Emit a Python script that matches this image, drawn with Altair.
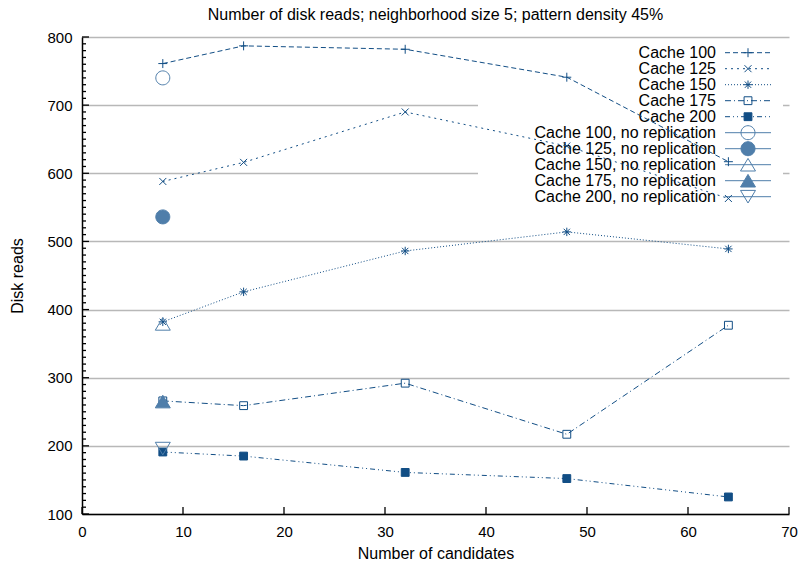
import altair as alt
import pandas as pd

title_text = "Number of disk reads; neighborhood size 5; pattern density 45%"
x_title = "Number of candidates"
y_title = "Disk reads"

series = ["Cache 100", "Cache 125", "Cache 150", "Cache 175", "Cache 200"]
candidates = [8, 16, 32, 48, 64]
cache100 = [761, 787, 782, 741, 617]
cache125 = [588, 616, 690, 640, 563]
cache150 = [382, 426, 486, 514, 489]
cache175 = [266, 259, 292, 217, 377]
cache200 = [191, 185, 161, 152, 125]

norep_labels = [s + ", no replication" for s in series]
norep_candidates = [8, 8, 8, 8, 8]
norep_values = [740, 536, 379, 265, 196]

x_ticks = [0, 10, 20, 30, 40, 50, 60, 70]
y_ticks = [100, 200, 300, 400, 500, 600, 700, 800]
y_minor = [v for v in range(110, 800, 10) if v % 100 != 0]

FONT = "Liberation Sans"
DARK = "#124e85"
LIGHT = "#4f7eaa"

all_labels = series + norep_labels
values = [cache100, cache125, cache150, cache175, cache200]

rows = []
for s, vals in zip(series, values):
    for c, v in zip(candidates, vals):
        rows.append({"label": s, "x": c, "value": v})
lines_df = pd.DataFrame(rows)
norep_df = pd.DataFrame({"label": norep_labels, "x": norep_candidates, "value": norep_values})
points_df = pd.concat([lines_df, norep_df], ignore_index=True)
legend_df = pd.DataFrame({"label": all_labels, "row": list(range(len(all_labels)))})

# marker shapes drawn in a 14px box (size 196)
PLUS = "M-0.64,0L0.64,0M0,-0.64L0,0.64"
CROSS = "M-0.5,-0.5L0.5,0.5M-0.5,0.5L0.5,-0.5"
STAR = "M-0.6,0L0.6,0M0,-0.6L0,0.6M-0.45,-0.45L0.45,0.45M-0.45,0.45L0.45,-0.45"
SQUARE = "M-0.56,-0.56L0.56,-0.56L0.56,0.56L-0.56,0.56Z"
CIRCLE = "M-1,0A1,1,0,1,1,1,0A1,1,0,1,1,-1,0Z"
TRI_UP = "M0,-0.9L1.07,0.9L-1.07,0.9Z"
TRI_DOWN = "M0,0.9L1.07,-0.9L-1.07,-0.9Z"
shape_range = [PLUS, CROSS, STAR, SQUARE, SQUARE, CIRCLE, CIRCLE, TRI_UP, TRI_UP, TRI_DOWN]
fill_range = ["transparent", "transparent", "transparent", "transparent", DARK,
              "transparent", LIGHT, "transparent", LIGHT, "transparent"]
stroke_range = [DARK] * 5 + [LIGHT] * 5
dash_range = [[5, 3], [2, 4], [1, 2], [6, 3, 1, 3], [5, 3, 1, 3, 1, 3],
              [1, 0], [1, 0], [1, 0], [1, 0], [1, 0]]

def enc_style(point=False):
    d = dict(
        stroke=alt.Stroke("label:N", scale=alt.Scale(domain=all_labels, range=stroke_range), legend=None),
    )
    if point:
        d["shape"] = alt.Shape("label:N", scale=alt.Scale(domain=all_labels, range=shape_range), legend=None)
        d["fill"] = alt.Fill("label:N", scale=alt.Scale(domain=all_labels, range=fill_range), legend=None)
    else:
        d["strokeDash"] = alt.StrokeDash("label:N", scale=alt.Scale(domain=all_labels, range=dash_range), legend=None)
    return d

xscale = alt.Scale(domain=[0, 70], nice=False, zero=False)
yscale = alt.Scale(domain=[100, 800], nice=False, zero=False)

xaxis = alt.Axis(values=x_ticks, title=x_title, grid=False, tickSize=0, labelPadding=10,
                 domainColor="black", domainWidth=1.5, labelFont=FONT, labelFontSize=15,
                 labelColor="black", titleFont=FONT, titleFontSize=16, titleFontWeight="normal",
                 titleColor="black", titlePadding=6, labelFlush=False, orient="bottom")
yaxis = alt.Axis(values=y_ticks, title=y_title, grid=True, gridColor="#b8b8b8", gridWidth=1.3,
                 tickSize=0, labelPadding=10, domainColor="black", domainWidth=1.5,
                 labelFont=FONT, labelFontSize=15, labelColor="black", titleFont=FONT,
                 titleFontSize=16, titleFontWeight="normal", titleColor="black", titlePadding=21,
                 orient="left")

# axes + grid only (drawn first, behind everything)
axes_layer = alt.Chart(lines_df).mark_line(strokeWidth=1, opacity=0).encode(
    x=alt.X("x:Q", scale=xscale, axis=xaxis),
    y=alt.Y("value:Q", scale=yscale, axis=yaxis),
    detail="label:N",
)

lines = alt.Chart(lines_df).mark_line(strokeWidth=1).encode(
    x=alt.X("x:Q", scale=xscale, axis=None),
    y=alt.Y("value:Q", scale=yscale, axis=None),
    detail="label:N",
    **enc_style(point=False),
)

points = alt.Chart(points_df).mark_point(opacity=1, strokeWidth=1, size=196).encode(
    x=alt.X("x:Q", scale=xscale, axis=None),
    y=alt.Y("value:Q", scale=yscale, axis=None),
    **enc_style(point=True),
)

xt_df = pd.DataFrame({"t": x_ticks})
yt_df = pd.DataFrame({"t": y_ticks})
ym_df = pd.DataFrame({"t": y_minor})

x_tick_marks = alt.Chart(xt_df).mark_rule(color="black", strokeWidth=1.3).encode(
    x=alt.X("t:Q", scale=xscale, axis=None), y=alt.value(477), y2=alt.value(470))
y_tick_marks = alt.Chart(yt_df).mark_rule(color="black", strokeWidth=1.3).encode(
    y=alt.Y("t:Q", scale=yscale, axis=None), x=alt.value(0), x2=alt.value(7))
y_minor_marks = alt.Chart(ym_df).mark_rule(color="black", strokeWidth=1.3).encode(
    y=alt.Y("t:Q", scale=yscale, axis=None), x=alt.value(0), x2=alt.value(4))

box = alt.Chart(legend_df).mark_rect(color="white").encode(
    x=alt.value(396), x2=alt.value(701), y=alt.value(7), y2=alt.value(167))

lscale = alt.Scale(domain=[0, 9], range=[15.7, 159.7])
leg_text = alt.Chart(legend_df).mark_text(align="right", baseline="middle", font=FONT,
                                          fontSize=16, color="black").encode(
    x=alt.value(634), y=alt.Y("row:Q", scale=lscale, axis=None), text="label:N")
leg_rule = alt.Chart(legend_df).mark_rule(strokeWidth=1).encode(
    x=alt.value(643), x2=alt.value(689), y=alt.Y("row:Q", scale=lscale, axis=None),
    **enc_style(point=False))
leg_pts = alt.Chart(legend_df).mark_point(opacity=1, strokeWidth=1, size=196).encode(
    x=alt.value(666), y=alt.Y("row:Q", scale=lscale, axis=None),
    **enc_style(point=True))

chart = alt.layer(
    axes_layer, box, leg_text, leg_rule, leg_pts,
    lines, x_tick_marks, y_tick_marks, y_minor_marks, points,
).resolve_scale(x="independent", y="independent").properties(
    width=707, height=477,
    title=alt.TitleParams(title_text, font=FONT, fontSize=16, fontWeight="normal",
                          color="black", anchor="middle", offset=7),
    autosize=alt.AutoSizeParams(type="none"),
    padding={"left": 82, "top": 37, "right": 11, "bottom": 51},
).configure_view(stroke=None)

chart.save("out.html", embed_options={"renderer": "svg", "actions": False})
